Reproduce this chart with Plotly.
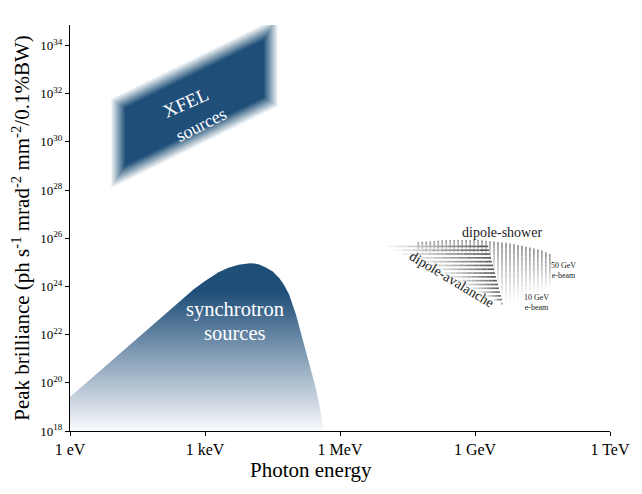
import numpy as np
import plotly.graph_objects as go

# ---------------- data ----------------
x_tick_values = [1e0, 1e3, 1e6, 1e9, 1e12]
x_tick_labels = ["1 eV", "1 keV", "1 MeV", "1 GeV", "1 TeV"]
y_tick_exponents = [18, 20, 22, 24, 26, 28, 30, 32, 34]

# synchrotron envelope (photon energy [eV], peak brilliance)
sync_energy_eV = [1, 10, 100, 562, 1000, 1.4e3, 2.0e3, 3.2e3, 5.6e3, 1.0e4, 1.26e4, 1.6e4,
                  2.2e4, 3.2e4, 4.5e4, 5.8e4, 7.4e4, 1.05e5, 1.45e5, 2.0e5, 2.9e5,
                  3.7e5, 4.2e5]
sync_brilliance = [2.6e19, 1.1e21, 4.6e22, 7.6e23, 1.7e24, 2.6e24, 3.9e24, 5.8e24, 7.9e24,
                   9.1e24, 8.9e24, 8.1e24, 6.3e24, 4.2e24, 2.2e24, 1.1e24, 4.6e23, 6.8e22,
                   7.2e21, 7.8e20, 6.0e19, 6.6e18, 1.6e18]

# XFEL region corners: left-bottom, left-top, right-top, right-bottom
xfel_energy_eV = [11.7, 11.7, 2.9e4, 2.9e4]
xfel_brilliance = [3.5e28, 4.0e31, 5.1e34, 4.6e31]

# dipole-shower region (top and bottom boundaries)
shower_top_energy_eV = [5.5e7, 2.6e8, 1.2e9, 5.4e9, 1.5e10, 3.2e10, 4.6e10]
shower_top_brilliance = [6.9e25, 8.5e25, 8.5e25, 6.3e25, 4.3e25, 3.0e25, 2.2e25]
shower_bottom_energy_eV = [5.5e7, 1.95e9, 4.2e9, 9.1e9, 4.6e10]
shower_bottom_brilliance = [2.2e25, 1.5e25, 1.9e23, 3.0e23, 8.5e23]

# dipole-avalanche region: apex, top-right, bottom
avalanche_energy_eV = [9.3e6, 1.95e9, 4.2e9]
avalanche_brilliance = [5.2e25, 4.8e25, 1.7e23]

# ---------------- styling / layout ----------------
BLUE = "#1f4e79"
FONT = "Liberation Serif, DejaVu Serif, serif"
W, H = 642, 494
M = dict(l=70, r=30, t=25, b=63)
X_RANGE = [0, 12]
Y_RANGE = [18, 34.85]
px_x = (W - M["l"] - M["r"]) / (X_RANGE[1] - X_RANGE[0])
px_y = (H - M["t"] - M["b"]) / (Y_RANGE[1] - Y_RANGE[0])

fig = go.Figure()

# ---- XFEL blurred parallelogram (stacked translucent layers) ----
lx = np.log10(xfel_energy_eV)
ly = np.log10(xfel_brilliance)
xl, xr = lx[0], lx[2]
s_top = (ly[2] - ly[1]) / (xr - xl)
s_bot = (ly[3] - ly[0]) / (xr - xl)


def vshift(s, d):
    sp = s * px_y / px_x
    return d * np.sqrt(1 + sp ** 2) / px_y


N_BLUR, R_BLUR = 14, 7.0
for j, d in enumerate(np.linspace(R_BLUR, -R_BLUR, N_BLUR), start=1):
    alpha = 1.0 / (N_BLUR - j + 1)
    x0 = xl - d / px_x
    x1 = xr + d / px_x
    yt0 = ly[1] + s_top * (x0 - xl) + vshift(s_top, d)
    yt1 = ly[1] + s_top * (x1 - xl) + vshift(s_top, d)
    yb0 = ly[0] + s_bot * (x0 - xl) - vshift(s_bot, d)
    yb1 = ly[0] + s_bot * (x1 - xl) - vshift(s_bot, d)
    fig.add_trace(go.Scatter(
        x=10 ** np.array([x0, x0, x1, x1, x0]),
        y=10 ** np.array([yb0, yt0, yt1, yb1, yb0]),
        mode="lines", fill="toself",
        fillcolor=f"rgba(31,78,121,{alpha:.4f})",
        line=dict(width=0, color="rgba(0,0,0,0)"), hoverinfo="skip"))

# ---- synchrotron area with vertical gradient ----
fig.add_trace(go.Scatter(
    x=list(sync_energy_eV) + [sync_energy_eV[-1], sync_energy_eV[0], sync_energy_eV[0]],
    y=list(sync_brilliance) + [1e18, 1e18, sync_brilliance[0]],
    mode="lines", fill="toself",
    fillgradient=dict(type="vertical",
                      colorscale=[[0, "rgb(250,251,253)"], [0.83, BLUE], [1, BLUE]]),
    line=dict(width=0, color="rgba(0,0,0,0)"),
    hoverinfo="skip"))


# ---- hatched dipole regions (gradient stripes) ----
def lerp_color(c0, c1, t):
    return "rgb(%d,%d,%d)" % tuple(round(a + (b - a) * t) for a, b in zip(c0, c1))


K = 10  # gradient steps per stripe

# shower: vertical stripes, grey at top fading to white at bottom
stx = np.log10(shower_top_energy_eV)
sty = np.log10(shower_top_brilliance)
sbx = np.log10(shower_bottom_energy_eV)
sby = np.log10(shower_bottom_brilliance)
n_shower = 34
xs_lines = np.linspace(stx[0], stx[-1], n_shower)
seg_x = [[] for _ in range(K)]
seg_y = [[] for _ in range(K)]
for xv in xs_lines:
    yt = np.interp(xv, stx, sty)
    yb = np.interp(xv, sbx, sby)
    ts = np.linspace(0, 1, K + 1)
    for k in range(K):
        ya = yt + (yb - yt) * ts[k]
        yb2 = yt + (yb - yt) * ts[k + 1]
        seg_x[k] += [10 ** xv, 10 ** xv, None]
        seg_y[k] += [10 ** ya, 10 ** yb2, None]
for k in range(K):
    fig.add_trace(go.Scatter(
        x=seg_x[k], y=seg_y[k], mode="lines",
        line=dict(width=1.7, color=lerp_color((145, 145, 145), (252, 252, 252), (k + 0.5) / K)),
        hoverinfo="skip"))

# avalanche: horizontal stripes, white at left to dark grey at right
ax = np.log10(avalanche_energy_eV)
ay = np.log10(avalanche_brilliance)
n_av = 16
ys_lines = np.linspace(ay[1] - 0.02, ay[2] + 0.06, n_av)
seg_x = [[] for _ in range(K)]
seg_y = [[] for _ in range(K)]
for yv in ys_lines:
    xleft = np.interp(yv, [ay[2], ay[0]], [ax[2], ax[0]])
    xright = np.interp(yv, [ay[2], ay[1]], [ax[2], ax[1]])
    ts = np.linspace(0, 1, K + 1)
    for k in range(K):
        xa = xleft + (xright - xleft) * ts[k]
        xb = xleft + (xright - xleft) * ts[k + 1]
        seg_x[k] += [10 ** xa, 10 ** xb, None]
        seg_y[k] += [10 ** yv, 10 ** yv, None]
for k in range(K):
    fig.add_trace(go.Scatter(
        x=seg_x[k], y=seg_y[k], mode="lines",
        line=dict(width=1.7, color=lerp_color((250, 250, 250), (85, 85, 85), (k + 0.5) / K)),
        hoverinfo="skip"))

# ---------------- labels ----------------
ann = [
    dict(x=2.58, y=31.62, text="XFEL", textangle=-24,
         font=dict(size=19, color="white", family=FONT)),
    dict(x=2.90, y=30.72, text="sources", textangle=-27,
         font=dict(size=18, color="white", family=FONT)),
    dict(x=3.66, y=23.06, text="synchrotron",
         font=dict(size=20.5, color="white", family=FONT)),
    dict(x=3.67, y=22.08, text="sources",
         font=dict(size=20.5, color="white", family=FONT)),
    dict(x=9.6, y=26.22, text="dipole-shower",
         font=dict(size=14, color="#222", family=FONT)),
    dict(x=8.48, y=24.30, text="dipole-avalanche", textangle=31,
         font=dict(size=14, color="#222", family=FONT)),
    dict(x=10.96, y=24.68, text="50 GeV<br>e-beam",
         font=dict(size=8, color="#222", family=FONT)),
    dict(x=10.37, y=23.35, text="10 GeV<br>e-beam",
         font=dict(size=8, color="#222", family=FONT)),
]
for a in ann:
    a.update(xref="x", yref="y", showarrow=False, xanchor="center", yanchor="middle")

# x-axis title (offset to the left as in the reference)
ann.append(dict(xref="paper", yref="paper", x=(312 - 70) / 542, y=(431 - 470) / 406,
                text="Photon energy", showarrow=False, xanchor="center", yanchor="middle",
                font=dict(size=21, family=FONT, color="black")))

fig.update_layout(
    width=W, height=H, margin=M,
    paper_bgcolor="white", plot_bgcolor="white",
    showlegend=False, annotations=ann,
    font=dict(family=FONT, color="black"),
    xaxis=dict(type="log", range=X_RANGE, tickvals=x_tick_values, ticktext=x_tick_labels,
               showline=True, linecolor="black", linewidth=1, ticks="outside",
               ticklen=4, tickcolor="black", showgrid=False, zeroline=False,
               tickfont=dict(size=16, family=FONT)),
    yaxis=dict(type="log", range=Y_RANGE,
               tickvals=[10.0 ** e for e in y_tick_exponents],
               ticktext=[f"10<sup>{e}</sup>" for e in y_tick_exponents],
               showline=True, linecolor="black", linewidth=1, ticks="outside",
               ticklen=4, tickcolor="black", showgrid=False, zeroline=False,
               tickfont=dict(size=13, family=FONT),
               title=dict(text="Peak brilliance (ph s<sup>-1</sup> mrad<sup>-2</sup> mm<sup>-2</sup>/0.1%BW)",
                          font=dict(size=21, family=FONT), standoff=4)),
)

fig.write_html("out.html")
